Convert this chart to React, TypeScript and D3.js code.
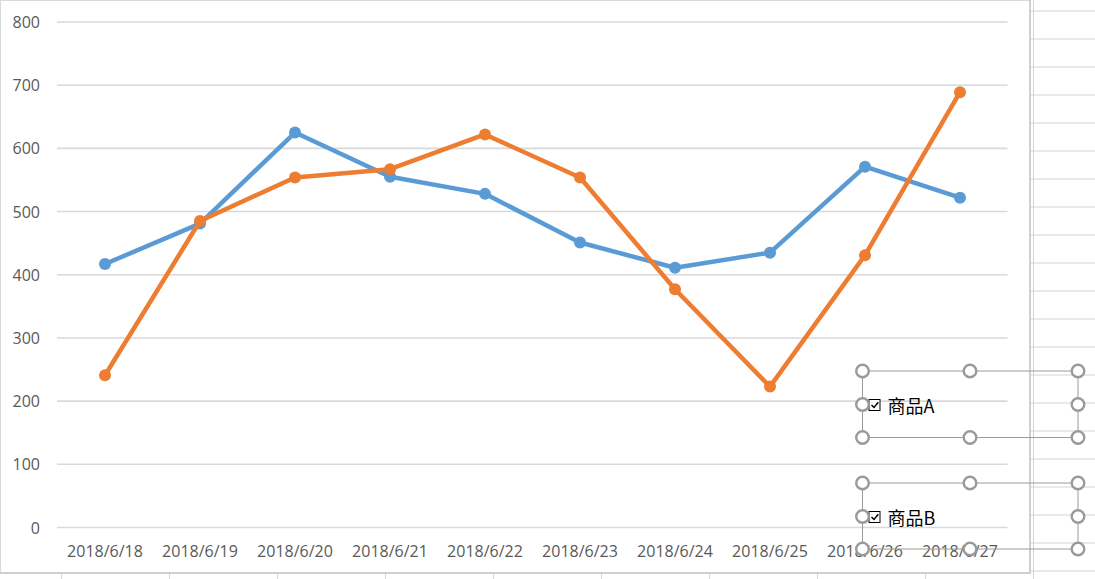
import React from 'react';
import * as d3 from 'd3';

const categories = ['2018/6/18', '2018/6/19', '2018/6/20', '2018/6/21', '2018/6/22', '2018/6/23', '2018/6/24', '2018/6/25', '2018/6/26', '2018/6/27'];
const seriesA = [417, 481, 625, 555, 528, 451, 411, 435, 571, 522];
const seriesB = [241, 485, 554, 567, 622, 554, 377, 223, 431, 689];
const yTicks = [0, 100, 200, 300, 400, 500, 600, 700, 800];
const legendNames = ['商品A', '商品B'];
const colors = ['#5B9BD5', '#ED7D31'];

const W = 1095;
const H = 579;

export default function App() {
  const x = d3.scaleBand<string>().domain(categories).range([57.5, 1007.5]);
  const cx = (c: string) => (x(c) as number) + x.bandwidth() / 2;
  const y = d3.scaleLinear().domain([0, 800]).range([527.5, 22]);
  const line = d3.line<number>().x((_, i) => cx(categories[i])).y((d) => y(d));
  const series = [seriesA, seriesB];

  const rowLines = d3.range(11, H, 28);
  const colLines = d3.range(0, 10).map((k) => 61.5 + 108 * k);

  const legendBoxes = [
    { top: 371, mid: 404.5, bot: 437.5 },
    { top: 483, mid: 516.5, bot: 549 },
  ];
  const hx = [862.5, 970, 1078];
  const handleColor = '#9a9a9a';

  return (
    <svg width={W} height={H} style={{ position: 'absolute', left: 0, top: 0, background: '#fff' }}>
      {rowLines.map((ry) => (
        <line key={'r' + ry} x1={1031} x2={W} y1={ry} y2={ry} stroke="#d4d4d4" strokeWidth={1} />
      ))}
      <line x1={1033.5} x2={1033.5} y1={0} y2={H} stroke="#d4d4d4" strokeWidth={1} />
      {colLines.map((cxl) => (
        <line key={'c' + cxl} x1={cxl} x2={cxl} y1={574} y2={H} stroke="#d4d4d4" strokeWidth={1} />
      ))}

      <rect x={0.5} y={0.5} width={1029.5} height={572} fill="#fff" stroke="#d9d9d9" strokeWidth={1} />
      <line x1={1030} x2={1030} y1={0} y2={574} stroke="#d0d0d0" strokeWidth={2} />
      <line x1={0} x2={1031} y1={573} y2={573} stroke="#d0d0d0" strokeWidth={2} />

      {yTicks.map((t) => (
        <line key={'g' + t} x1={57} x2={1007.5} y1={y(t)} y2={y(t)} stroke="#d9d9d9" strokeWidth={1.6} />
      ))}
      {yTicks.map((t) => (
        <text key={'yl' + t} x={40} y={y(t)} textAnchor="end" dominantBaseline="central"
          fontFamily="'Open Sans', sans-serif" fontSize={16} fill="#595959">{t}</text>
      ))}
      {categories.map((c) => (
        <text key={'xl' + c} x={cx(c)} y={551} textAnchor="middle" dominantBaseline="central"
          fontFamily="'Open Sans', sans-serif" fontSize={16} fill="#595959">{c}</text>
      ))}

      {series.map((s, si) => (
        <g key={'s' + si}>
          <path d={line(s) as string} fill="none" stroke={colors[si]} strokeWidth={4.5} strokeLinejoin="round" strokeLinecap="round" />
          {s.map((v, i) => (
            <circle key={i} cx={cx(categories[i])} cy={y(v)} r={6} fill={colors[si]} />
          ))}
        </g>
      ))}

      {legendBoxes.map((b, bi) => (
        <g key={'lb' + bi}>
          <line x1={hx[0]} x2={hx[2]} y1={b.top} y2={b.top} stroke={handleColor} strokeWidth={1} />
          <line x1={hx[0]} x2={hx[2]} y1={b.bot} y2={b.bot} stroke={handleColor} strokeWidth={1} />
          <line x1={hx[0]} x2={hx[0]} y1={b.top} y2={b.bot} stroke={handleColor} strokeWidth={1} />
          <line x1={hx[2]} x2={hx[2]} y1={b.top} y2={b.bot} stroke={handleColor} strokeWidth={1} />
          <rect x={869} y={b.mid - 5} width={11} height={11} fill="#fff" stroke="#000" strokeWidth={1} />
          <path d={`M871.5,${b.mid + 0.5} L874,${b.mid + 3} L878.3,${b.mid - 2.3}`} fill="none" stroke="#000" strokeWidth={1.5} />
          <text x={887.5} y={b.mid} dominantBaseline="central" fontFamily="'Noto Sans CJK SC', sans-serif" fontSize={18} fill="#000">
            {legendNames[bi]}
          </text>
          {[
            [hx[0], b.top], [hx[1], b.top], [hx[2], b.top],
            [hx[0], b.mid], [hx[2], b.mid],
            [hx[0], b.bot], [hx[1], b.bot], [hx[2], b.bot],
          ].map(([px, py], k) => (
            <circle key={k} cx={px} cy={py} r={6.3} fill="#fff" stroke={handleColor} strokeWidth={2.4} />
          ))}
        </g>
      ))}
    </svg>
  );
}
